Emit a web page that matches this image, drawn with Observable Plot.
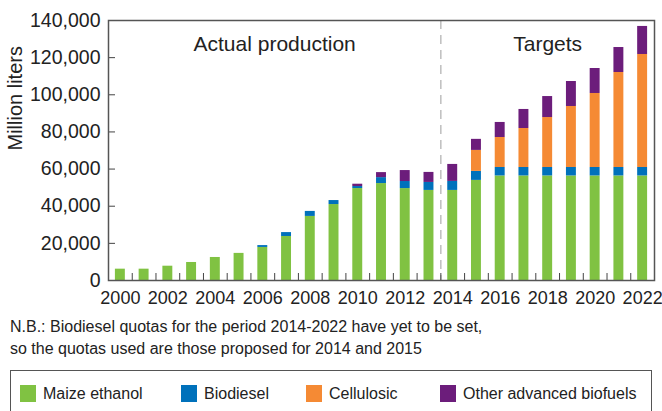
<!DOCTYPE html>
<html><head><meta charset="utf-8">
<script src="https://cdn.jsdelivr.net/npm/d3@7"></script>
<script src="https://cdn.jsdelivr.net/npm/@observablehq/plot@0.6"></script>
<style>
body{margin:0;background:#fff;font-family:"Liberation Sans",Arial,sans-serif;color:#222;}
#wrap{position:relative;width:662px;height:411px;overflow:hidden;background:#fff;}
#chart{position:absolute;left:0;top:0;}
#note{position:absolute;left:10px;top:316px;font-size:16px;line-height:22px;color:#222;white-space:nowrap;}
#legend{position:absolute;left:10px;top:370px;width:642px;height:60px;border:1.5px solid #555;box-sizing:border-box;}
.item{position:absolute;top:14px;display:flex;align-items:center;font-size:16px;line-height:17px;color:#222;white-space:nowrap;}
.sw{width:16px;height:17px;margin-right:7px;flex:none;}
</style>
</head><body>
<div id="wrap">
  <div id="chart"></div>
  <div id="note">N.B.: Biodiesel quotas for the period 2014-2022 have yet to be set,<br>so the quotas used are those proposed for 2014 and 2015</div>
  <div id="legend"></div>
</div>
<script>
// ---- data (million liters) ----
const years = [2000,2001,2002,2003,2004,2005,2006,2007,2008,2009,2010,2011,2012,2013,2014,2015,2016,2017,2018,2019,2020,2021,2022];
const maizeEthanol = [6100,6100,7700,9700,12400,14600,17800,23700,34500,40900,49500,52200,49500,48500,48500,53900,56300,56300,56300,56300,56300,56300,56300];
const biodiesel    = [0,0,0,0,0,0,1000,2100,2700,2150,1100,3200,3800,4300,4850,4850,4550,4550,4550,4550,4550,4550,4550];
const cellulosic   = [0,0,0,0,0,0,0,0,0,0,0,0,0,0,0,11300,16150,21000,26900,32850,39850,51150,60850];
const otherAdvanced= [0,0,0,0,0,0,0,0,0,0,1250,2700,5900,5400,9150,5950,8100,10250,11300,13450,13450,13450,15100];
const types  = ["Maize ethanol","Biodiesel","Cellulosic","Other advanced biofuels"];
const colors = ["#80c242","#0071bb","#f58a34","#6c1d7b"];
const yTicks = [0,20000,40000,60000,80000,100000,120000,140000];
const labelYears = [2000,2002,2004,2006,2008,2010,2012,2014,2016,2018,2020,2022];
const firstTargetYear = 2014;
const periodLabels = ["Actual production","Targets"];

// ---- table for Plot ----
const series = [maizeEthanol, biodiesel, cellulosic, otherAdvanced];
const table = [];
types.forEach((t, k) => years.forEach((yr, i) => {
  const v = series[k][i];
  if (v > 0) table.push({year: yr, x1: yr - 0.5, x2: yr + 0.5, type: t, value: v});
}));
const boundaries = years.slice(0, -1).map(y => y + 0.5);
const lastYear = years[years.length - 1];
const annotations = [
  {x: (years[0] + firstTargetYear - 1) / 2, label: periodLabels[0]},
  {x: (firstTargetYear + lastYear) / 2, label: periodLabels[1]}
];

const chart = Plot.plot({
  width: 662, height: 310,
  marginLeft: 108, marginRight: 8, marginTop: 20, marginBottom: 30,
  style: {fontFamily: "Liberation Sans, Arial, sans-serif", fontSize: "18px", color: "#222", background: "#fff"},
  x: {domain: [years[0] - 0.5, lastYear + 0.5]},
  y: {domain: [0, 140000]},
  color: {domain: types, range: colors},
  marks: [
    Plot.rectY(table, {x: "year", x1: "x1", x2: "x2", y: "value", fill: "type", order: types, insetLeft: 6.9, insetRight: 6.9}),
    Plot.ruleX([firstTargetYear - 0.5], {stroke: "#b4b4b4", strokeWidth: 1.3, strokeDasharray: "9,6"}),
    Plot.axisY(yTicks, {tickSize: -7, tickPadding: 15, tickFormat: d => d3.format(",")(d), label: null, stroke: "#444", fontSize: 19.5}),
    Plot.axisX(labelYears, {tickSize: 0, tickPadding: 11, tickFormat: d => String(d), label: null, fontSize: 18}),
    Plot.axisX(boundaries, {tickSize: -7, tickFormat: () => "", label: null, stroke: "#444"}),
    Plot.frame({stroke: "#555", strokeWidth: 1.5}),
    Plot.text(annotations, {x: "x", text: "label", frameAnchor: "top", dy: 24, lineAnchor: "middle", fontSize: 21, fill: "#222"}),
    Plot.text(["Million liters"], {frameAnchor: "left", rotate: -90, dx: -93, fontSize: 20, fill: "#222"})
  ]
});
document.getElementById("chart").appendChild(chart);

// ---- legend ----
const legendLefts = [9, 170, 295, 429];
const legend = document.getElementById("legend");
types.forEach((t, k) => {
  const it = document.createElement("div");
  it.className = "item";
  it.style.left = legendLefts[k] + "px";
  const sw = document.createElement("div");
  sw.className = "sw";
  sw.style.background = chart.scale("color").apply(t);
  it.appendChild(sw);
  it.appendChild(document.createTextNode(t));
  legend.appendChild(it);
});
</script>
</body></html>
